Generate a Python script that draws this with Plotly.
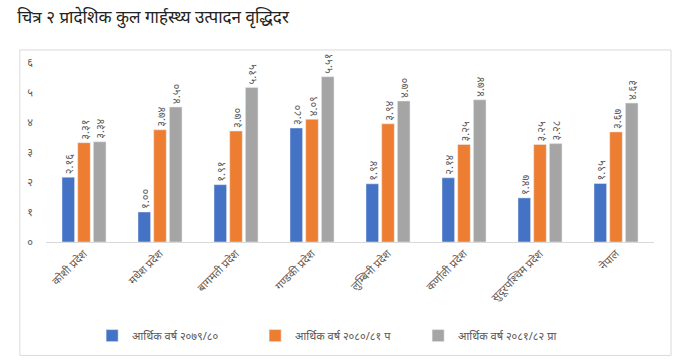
import plotly.graph_objects as go

categories = ["कोशी प्रदेश", "मधेश प्रदेश", "बागमती प्रदेश", "गण्डकी प्रदेश",
              "लुम्बिनी प्रदेश", "कर्णाली प्रदेश", "सुदूरपश्चिम प्रदेश", "नेपाल"]
series_names = ["आर्थिक वर्ष २०७९/८०", "आर्थिक वर्ष २०८०/८१ प", "आर्थिक वर्ष २०८१/८२ प्रा"]
fy_7980 = [2.16, 1.00, 1.91, 3.80, 1.94, 2.14, 1.47, 1.95]
fy_8081 = [3.31, 3.74, 3.70, 4.09, 3.94, 3.25, 3.25, 3.67]
fy_8182 = [3.34, 4.50, 5.15, 5.51, 4.70, 4.74, 3.28, 4.63]
y_tickvals = [0, 1, 2, 3, 4, 5, 6]
colors = ["#4472C4", "#ED7D31", "#A5A5A5"]

DEV = str.maketrans("0123456789", "०१२३४५६७८९")


def dev(v, fmt="{:.2f}"):
    return fmt.format(v).translate(DEV)


FONT = "Noto Sans, DejaVu Sans, sans-serif"

fig = go.Figure()
for name, vals, col in zip(series_names, [fy_7980, fy_8081, fy_8182], colors):
    fig.add_trace(go.Bar(
        x=categories, y=vals, name=name, marker_color=col,
        text=[dev(v) for v in vals], textposition="outside", textangle=-90,
        constraintext="none",
        textfont=dict(size=11, color="#595959", family=FONT),
        cliponaxis=False,
    ))

fig.update_layout(
    width=687, height=363,
    margin=dict(l=46, r=33, t=62, b=121, autoexpand=False),
    paper_bgcolor="white", plot_bgcolor="white",
    barmode="group", bargap=0.38, bargroupgap=0.2,
    font=dict(family=FONT, color="#595959"),
    title=dict(text="चित्र २ प्रादेशिक कुल गार्हस्थ्य उत्पादन वृद्धिदर",
               x=0.025, xref="container", xanchor="left",
               y=0.952, yref="container", yanchor="middle",
               font=dict(size=17, color="#222222", family=FONT)),
    showlegend=True,
    legend=dict(orientation="h", x=0.478, xanchor="center", y=-0.52, yanchor="middle",
                font=dict(size=11, color="#595959"), itemwidth=30,
                entrywidth=118, entrywidthmode="pixels",
                traceorder="normal"),
    xaxis=dict(tickangle=-45, showgrid=False, showline=True, linecolor="#D9D9D9",
               tickfont=dict(size=11, color="#595959"), ticks="", automargin=False),
    yaxis=dict(range=[0, 6], tickvals=y_tickvals,
               ticktext=[dev(v, "{:d}") for v in y_tickvals],
               showgrid=False, zeroline=False, showline=False, ticks="",
               ticklabelstandoff=12, automargin=False,
               tickfont=dict(size=11, color="#595959")),
    shapes=[dict(type="rect", xref="paper", yref="paper",
                 x0=-0.043, x1=1.028, y0=-0.63, y1=1.067,
                 line=dict(color="#D9D9D9", width=1), layer="below")],
)

fig.write_html("out.html", config={"displayModeBar": False},
               post_script="document.body.style.margin='0';document.body.style.overflow='hidden';")
